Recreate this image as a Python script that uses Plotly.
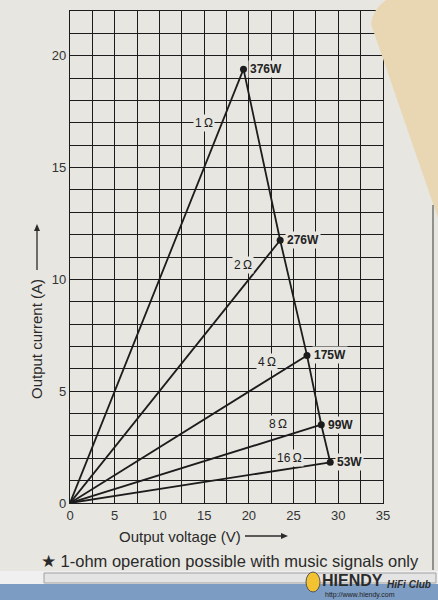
import plotly.graph_objects as go

# ---- data ----
impedance = ["1\u2009\u03a9", "2\u2009\u03a9", "4\u2009\u03a9", "8\u2009\u03a9", "16\u2009\u03a9"]
power_w = [376, 276, 175, 99, 53]
voltage = [19.4, 23.5, 26.5, 28.1, 29.1]
current = [19.4, 11.75, 6.6, 3.5, 1.82]

x_ticks = [0, 2.5, 5, 7.5, 10, 12.5, 15, 17.5, 20, 22.5, 25, 27.5, 30, 32.5, 35]
x_labels = ["0", "", "5", "", "10", "", "15", "", "20", "", "25", "", "30", "", "35"]
y_ticks = list(range(0, 23))
y_labels = [str(v) if v % 5 == 0 else "" for v in y_ticks]

# label anchor positions (layout)
imp_label_pos = [(15.0, 17.0), (19.4, 10.65), (22.0, 6.3), (23.3, 3.53), (24.6, 2.0)]

BG = "#E7E6E1"
INK = "#1c1c1c"
FONT = "Liberation Sans, Arial, sans-serif"

W, H = 438, 600
ML, MR, MT, MB = 70, 55, 11, 97
pw, ph = W - ML - MR, H - MT - MB


def px(xp):
    return (xp - ML) / pw


def py(yp):
    return (H - MB - yp) / ph


fig = go.Figure()

# lines from origin to each operating point
for v, c in zip(voltage, current):
    fig.add_trace(go.Scatter(x=[0, v], y=[0, c], mode="lines",
                             line=dict(color=INK, width=1.8),
                             hoverinfo="skip", showlegend=False))

# load line through the operating points
fig.add_trace(go.Scatter(x=voltage, y=current, mode="lines+markers",
                         line=dict(color=INK, width=1.8),
                         marker=dict(color=INK, size=7),
                         showlegend=False))

annotations = []
for (lx, ly), txt in zip(imp_label_pos, impedance):
    annotations.append(dict(x=lx, y=ly, xref="x", yref="y", text=txt, showarrow=False,
                            font=dict(family=FONT, size=12, color=INK),
                            bgcolor=BG, borderpad=1, xanchor="center", yanchor="middle"))
for v, c, p in zip(voltage, current, power_w):
    annotations.append(dict(x=v, y=c, xref="x", yref="y", text=f"<b>{p}W</b>", showarrow=False,
                            font=dict(family=FONT, size=12, color="#222"),
                            bgcolor=BG, borderpad=1, xanchor="left", yanchor="middle",
                            xshift=5))

# axis titles, footnote, watermark (pixel positions converted to paper fractions)
annotations.append(dict(x=px(117), y=py(536), xref="paper", yref="paper", text="Output voltage (V)",
                        showarrow=False, xanchor="left", yanchor="middle",
                        font=dict(family=FONT, size=15, color="#2a2a2a")))
annotations.append(dict(x=px(36), y=py(339), xref="paper", yref="paper", text="Output current (A)",
                        showarrow=False, textangle=-90, xanchor="center", yanchor="middle",
                        font=dict(family=FONT, size=15, color="#2a2a2a")))
annotations.append(dict(x=px(39), y=py(561), xref="paper", yref="paper",
                        text="\u2605 1-ohm operation possible with music signals only",
                        showarrow=False, xanchor="left", yanchor="middle",
                        font=dict(family=FONT, size=16.5, color="#2a2a2a")))
annotations.append(dict(x=px(320), y=py(580), xref="paper", yref="paper",
                        text="<b>HIENDY</b>", showarrow=False, xanchor="left", yanchor="middle",
                        font=dict(family=FONT, size=16, color="#2b2b2b")))
annotations.append(dict(x=px(385), y=py(584), xref="paper", yref="paper",
                        text="<b><i>HiFi Club</i></b>", showarrow=False, xanchor="left",
                        yanchor="middle", font=dict(family=FONT, size=10, color="#2b2b2b")))
annotations.append(dict(x=px(323), y=py(595), xref="paper", yref="paper",
                        text="http://www.hiendy.com", showarrow=False, xanchor="left",
                        yanchor="middle", font=dict(family=FONT, size=7, color="#222")))

fig.update_layout(annotations=annotations)

shapes = [
    # arrows for axis titles
    dict(type="line", xref="paper", yref="paper", x0=px(245), x1=px(284), y0=py(536), y1=py(536),
         line=dict(color="#2a2a2a", width=1.3)),
    dict(type="path", xref="paper", yref="paper",
         path=f"M {px(288)} {py(536)} L {px(281)} {py(533)} L {px(281)} {py(539)} Z",
         fillcolor="#2a2a2a", line=dict(width=0)),
    dict(type="line", xref="paper", yref="paper", x0=px(37), x1=px(37), y0=py(270), y1=py(229),
         line=dict(color="#2a2a2a", width=1.3)),
    dict(type="path", xref="paper", yref="paper",
         path=f"M {px(37)} {py(224)} L {px(34)} {py(231)} L {px(40)} {py(231)} Z",
         fillcolor="#2a2a2a", line=dict(width=0)),
    # decorative beige object at top right
    dict(type="path", xref="paper", yref="paper", layer="above",
         path=(f"M {px(371)} {py(24)} Q {px(372)} {py(10)} {px(386)} {py(0)} "
               f"L {px(438)} {py(0)} L {px(438)} {py(218)} Z"),
         fillcolor="#E9D7B4", line=dict(width=0)),
    dict(type="line", xref="paper", yref="paper", x0=px(433), x1=px(433), y0=py(205), y1=py(570),
         line=dict(color="#3a3a3a", width=1)),
    # bottom browser bars
    dict(type="rect", xref="paper", yref="paper", x0=px(0), x1=px(438), y0=py(571), y1=py(584),
         fillcolor="#F0F0F0", line=dict(width=0)),
    dict(type="rect", xref="paper", yref="paper", x0=px(44), x1=px(436), y0=py(573), y1=py(583),
         fillcolor="#E4E4E4", line=dict(color="#A0A0A0", width=1)),
    dict(type="rect", xref="paper", yref="paper", x0=px(0), x1=px(438), y0=py(584), y1=py(600),
         fillcolor="#7C9CC4", line=dict(width=0)),
    dict(type="circle", xref="paper", yref="paper", x0=px(306), x1=px(320), y0=py(572), y1=py(592),
         fillcolor="#F2C230", line=dict(color="#555", width=1)),
]
fig.update_layout(shapes=shapes)

fig.update_xaxes(range=[0, 35], tickvals=x_ticks, ticktext=x_labels,
                 showgrid=True, gridcolor=INK, gridwidth=1.2,
                 showline=True, linecolor=INK, linewidth=1.2, mirror=True,
                 zeroline=False, ticks="", tickfont=dict(family=FONT, size=13, color="#333"),
                 fixedrange=True)
fig.update_yaxes(range=[0, 22], tickvals=y_ticks, ticktext=y_labels,
                 showgrid=True, gridcolor=INK, gridwidth=1.2,
                 showline=True, linecolor=INK, linewidth=1.2, mirror=True,
                 zeroline=False, ticks="", tickfont=dict(family=FONT, size=13, color="#333"),
                 fixedrange=True)

fig.update_layout(width=W, height=H, margin=dict(l=ML, r=MR, t=MT, b=MB, autoexpand=False),
                  paper_bgcolor=BG, plot_bgcolor=BG, showlegend=False)

fig.write_html("out.html", config={"displayModeBar": False},
               post_script="document.body.style.margin='0';document.body.style.overflow='hidden';")
